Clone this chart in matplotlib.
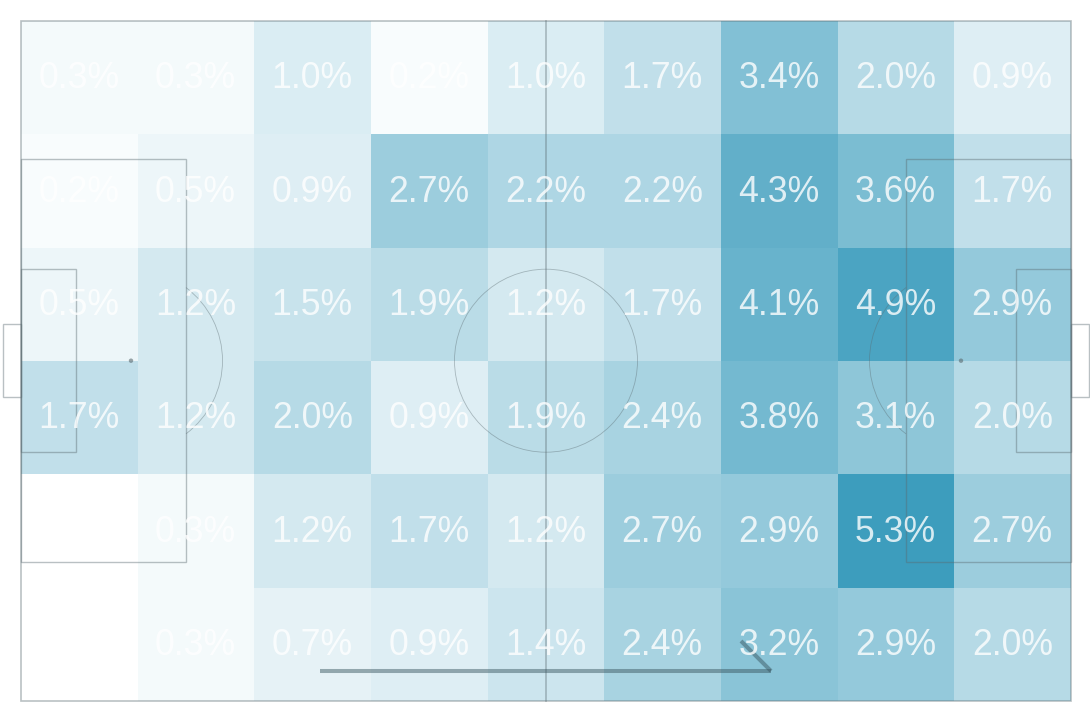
import numpy as np
import matplotlib
matplotlib.use("Agg")
import matplotlib.pyplot as plt
from matplotlib.colors import LinearSegmentedColormap
from matplotlib.patches import Arc, Circle, Rectangle

# Shares per zone, top row first, left to right (0.0: no label)
row_1 = [0.3, 0.3, 1.0, 0.2, 1.0, 1.7, 3.4, 2.0, 0.9]
row_2 = [0.2, 0.5, 0.9, 2.7, 2.2, 2.2, 4.3, 3.6, 1.7]
row_3 = [0.5, 1.2, 1.5, 1.9, 1.2, 1.7, 4.1, 4.9, 2.9]
row_4 = [1.7, 1.2, 2.0, 0.9, 1.9, 2.4, 3.8, 3.1, 2.0]
row_5 = [0.0, 0.3, 1.2, 1.7, 1.2, 2.7, 2.9, 5.3, 2.7]
row_6 = [0.0, 0.3, 0.7, 0.9, 1.4, 2.4, 3.2, 2.9, 2.0]
rows = [row_1, row_2, row_3, row_4, row_5, row_6]

pitch_length = 105.0
pitch_width = 68.0
direction_x = [29.9, 75.0]
direction_y = [65.0, 65.0]
head_x = [75.0, 72.0]
head_y = [65.0, 62.0]

values = np.array(rows)
x_edges = np.linspace(0, pitch_length, values.shape[1] + 1)
y_edges = np.linspace(0, pitch_width, values.shape[0] + 1)

fig = plt.figure(figsize=(10.9, 7.2), dpi=100)
ax = fig.add_axes([0, 0, 1, 1])
ax.set_xlim(-2.1, 106.9)
ax.set_ylim(69.9, -2.1)
ax.axis("off")

cmap = LinearSegmentedColormap.from_list("zones", ["#ffffff", "#3d9dbd"])
ax.pcolormesh(x_edges, y_edges, values, cmap=cmap, vmin=0, vmax=5.3,
              shading="flat", linewidth=0, antialiased=False, zorder=1)

line = dict(color="#5a6a70", alpha=0.42, zorder=2)
mid_y = pitch_width / 2 - 0.03
box_h = 40.3
six_h = 18.3
goal_h = 7.3


def rect(x, y, w, h, lw):
    ax.add_patch(Rectangle((x, y), w, h, fill=False, lw=lw, **line))


rect(0, 0, pitch_length, pitch_width, 1.2)
ax.plot([pitch_length / 2] * 2, [0, pitch_width], lw=1.2, **line)
for x, sign in ((0.0, 1), (pitch_length, -1)):
    left = x if sign > 0 else x - 16.5
    rect(left, mid_y - box_h / 2, 16.5, box_h, 1.0)
    left = x if sign > 0 else x - 5.5
    rect(left, mid_y - six_h / 2, 5.5, six_h, 1.0)
    left = x - 1.8 if sign > 0 else x
    rect(left, mid_y - goal_h / 2, 1.8, goal_h, 1.0)
    ax.add_patch(Circle((x + sign * 11, mid_y), 0.22, color="#5a6a70",
                        alpha=0.6, lw=0, zorder=2))
ax.add_patch(Circle((pitch_length / 2, mid_y), 9.15, fill=False, lw=0.6, **line))
ang = np.degrees(np.arccos(5.5 / 9.15))
ax.add_patch(Arc((11, mid_y), 18.3, 18.3, theta1=-ang, theta2=ang, lw=0.6, **line))
ax.add_patch(Arc((pitch_length - 11, mid_y), 18.3, 18.3, theta1=180 - ang,
                 theta2=180 + ang, lw=0.6, **line))

arrow = dict(color="#38555f", alpha=0.48, lw=2.9, solid_capstyle="butt", zorder=3)
ax.plot(direction_x, direction_y, **arrow)
ax.plot(head_x, head_y, **arrow)

for r, row in enumerate(rows):
    for c, v in enumerate(row):
        if v > 0:
            ax.text((x_edges[c] + x_edges[c + 1]) / 2 - 0.04,
                    (y_edges[r] + y_edges[r + 1]) / 2 + 0.12,
                    f"{v:.1f}%", ha="center", va="center", color="white", alpha=0.8,
                    fontsize=25.7, family="Liberation Sans", zorder=4)

fig.savefig("out.png", dpi=100)
